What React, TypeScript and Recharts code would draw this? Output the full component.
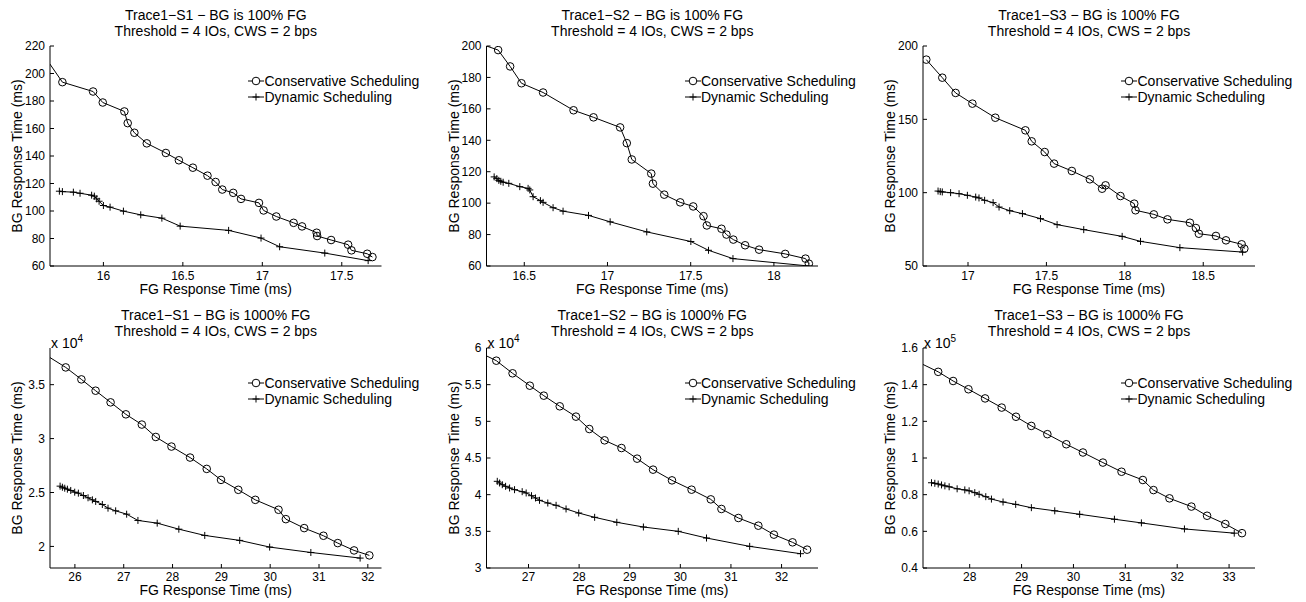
import React from 'react';
import { LineChart, Line, XAxis, YAxis } from 'recharts';

// ---------- data (FG response time in ms, BG response time in ms) ----------
const s1ConsFG = [15.6, 15.742, 15.935, 15.996, 16.132, 16.153, 16.195, 16.273, 16.393, 16.475, 16.563, 16.655, 16.706, 16.748, 16.817, 16.866, 16.979, 17.008, 17.088, 17.197, 17.25, 17.342, 17.345, 17.433, 17.54, 17.561, 17.66, 17.693];
const s1ConsBG = [217.5, 193.7, 186.9, 178.9, 172.4, 163.9, 156.9, 149.2, 142.2, 136.9, 131.5, 125.7, 121.1, 115.6, 113.2, 108.8, 105.9, 100.4, 96.0, 91.4, 88.8, 84.2, 81.8, 78.9, 75.5, 71.4, 68.9, 66.5];
const s1DynFG = [15.723, 15.742, 15.811, 15.853, 15.926, 15.943, 15.958, 15.973, 16.0, 16.042, 16.126, 16.235, 16.368, 16.483, 16.788, 16.992, 17.109, 17.393, 17.666];
const s1DynBG = [114.4, 114.1, 113.7, 112.9, 111.5, 110.8, 108.8, 107.1, 104.0, 102.8, 99.9, 97.2, 94.8, 89.0, 85.9, 80.3, 74.0, 69.4, 63.9];

const s2ConsFG = [16.204, 16.343, 16.415, 16.483, 16.613, 16.796, 16.916, 17.076, 17.116, 17.146, 17.263, 17.273, 17.341, 17.437, 17.515, 17.577, 17.597, 17.685, 17.715, 17.756, 17.827, 17.911, 18.068, 18.19, 18.21];
const s2ConsBG = [202.6, 197.4, 187.0, 176.3, 170.4, 159.1, 154.6, 148.2, 138.2, 127.8, 118.8, 112.4, 105.4, 100.5, 97.9, 91.7, 85.8, 83.7, 80.0, 76.8, 73.2, 70.4, 67.7, 64.7, 61.5];
const s2DynFG = [16.319, 16.335, 16.347, 16.359, 16.373, 16.407, 16.473, 16.523, 16.533, 16.553, 16.597, 16.613, 16.673, 16.733, 16.886, 17.016, 17.236, 17.501, 17.607, 17.754, 18.21];
const s2DynBG = [116.7, 115.6, 114.5, 113.9, 113.3, 112.6, 110.5, 109.4, 108.4, 104.1, 101.6, 100.5, 97.1, 94.9, 92.2, 88.1, 81.7, 75.6, 70.0, 64.7, 60.0];

const s3ConsFG = [16.734, 16.836, 16.921, 17.028, 17.174, 17.366, 17.406, 17.489, 17.549, 17.662, 17.777, 17.855, 17.877, 17.972, 18.06, 18.068, 18.185, 18.272, 18.415, 18.453, 18.472, 18.581, 18.645, 18.745, 18.762];
const s3ConsBG = [190.7, 178.4, 168.0, 160.7, 151.1, 142.5, 135.0, 127.7, 119.8, 114.8, 109.1, 102.7, 105.0, 97.7, 92.5, 88.0, 85.2, 81.8, 79.5, 75.9, 72.0, 70.5, 67.5, 64.8, 61.8];
const s3DynFG = [16.809, 16.823, 16.836, 16.889, 16.943, 16.996, 17.049, 17.07, 17.106, 17.16, 17.198, 17.266, 17.347, 17.462, 17.568, 17.738, 17.983, 18.1, 18.351, 18.751];
const s3DynBG = [101.1, 100.7, 100.5, 100.0, 99.3, 98.2, 97.0, 96.4, 94.8, 93.2, 90.2, 87.7, 85.7, 82.3, 78.2, 74.8, 70.2, 66.8, 62.5, 59.5];

const t1ConsFG = [25.3, 25.812, 26.133, 26.424, 26.731, 27.044, 27.371, 27.657, 27.978, 28.359, 28.7, 28.993, 29.347, 29.695, 30.171, 30.321, 30.696, 31.091, 31.384, 31.718, 32.031];
const t1ConsBG = [38050, 36600, 35490, 34440, 33360, 32250, 31300, 30150, 29260, 28240, 27190, 26170, 25250, 24320, 23400, 22530, 21700, 20990, 20310, 19630, 19170];
const t1DynFG = [25.697, 25.744, 25.792, 25.846, 25.915, 25.996, 26.071, 26.174, 26.269, 26.358, 26.426, 26.562, 26.678, 26.835, 27.06, 27.291, 27.686, 28.129, 28.66, 29.376, 29.989, 30.833, 31.842];
const t1DynBG = [25590, 25490, 25400, 25310, 25190, 25030, 24940, 24720, 24510, 24320, 24170, 23890, 23550, 23300, 22990, 22410, 22160, 21600, 21020, 20560, 19940, 19440, 18920];

const t2ConsFG = [25.957, 26.364, 26.685, 27.026, 27.302, 27.617, 27.938, 28.201, 28.503, 28.837, 29.146, 29.461, 29.835, 30.222, 30.602, 30.812, 31.147, 31.541, 31.849, 32.217, 32.505];
const t2ConsBG = [59640, 58270, 56550, 54860, 53500, 52050, 50640, 48950, 47410, 46360, 44910, 43410, 41950, 40680, 39360, 38050, 36820, 35770, 34550, 33500, 32500];
const t2DynFG = [26.383, 26.429, 26.482, 26.547, 26.626, 26.724, 26.875, 26.954, 27.059, 27.138, 27.217, 27.381, 27.545, 27.742, 27.992, 28.307, 28.745, 29.27, 29.959, 30.517, 31.37, 32.374];
const t2DynBG = [41820, 41590, 41360, 41140, 40910, 40680, 40410, 40230, 39860, 39550, 39230, 38860, 38550, 38050, 37500, 36910, 36230, 35590, 35000, 34090, 32950, 31950];

const t3ConsFG = [26.847, 27.393, 27.681, 27.976, 28.297, 28.617, 28.893, 29.188, 29.497, 29.862, 30.183, 30.568, 30.927, 31.338, 31.543, 31.851, 32.274, 32.576, 32.928, 33.249];
const t3ConsBG = [154500, 147000, 142000, 137500, 132500, 127500, 122500, 117500, 113000, 107500, 103000, 97500, 92500, 88000, 82500, 78000, 73500, 68500, 64000, 59000];
const t3DynFG = [27.264, 27.328, 27.393, 27.457, 27.522, 27.604, 27.758, 27.906, 27.989, 28.098, 28.182, 28.31, 28.419, 28.643, 28.887, 29.189, 29.64, 30.12, 30.79, 31.31, 32.14, 33.1];
const t3DynBG = [86500, 86200, 85800, 85300, 84800, 84300, 83200, 82600, 82100, 81100, 80200, 78900, 77600, 76000, 74700, 72900, 71200, 69300, 66600, 64600, 61300, 59000];

const titles = [
  'Trace1\u2212S1 \u2212 BG is 100% FG',
  'Trace1\u2212S2 \u2212 BG is 100% FG',
  'Trace1\u2212S3 \u2212 BG is 100% FG',
  'Trace1\u2212S1 \u2212 BG is 1000% FG',
  'Trace1\u2212S2 \u2212 BG is 1000% FG',
  'Trace1\u2212S3 \u2212 BG is 1000% FG',
];
const subtitle = 'Threshold = 4 IOs, CWS = 2 bps';
const seriesNames = ['Conservative Scheduling', 'Dynamic Scheduling'];
const xLabel = 'FG Response Time (ms)';
const yLabel = 'BG Response Time (ms)';

const xTicks1 = [16, 16.5, 17, 17.5];
const xTicks2 = [16.5, 17, 17.5, 18];
const xTicks3 = [17, 17.5, 18, 18.5];
const xTicks4 = [26, 27, 28, 29, 30, 31, 32];
const xTicks5 = [27, 28, 29, 30, 31, 32];
const xTicks6 = [28, 29, 30, 31, 32, 33];
const yTicks1 = [60, 80, 100, 120, 140, 160, 180, 200, 220];
const yTicks2 = [60, 80, 100, 120, 140, 160, 180, 200];
const yTicks3 = [50, 100, 150, 200];
const yTicks4 = [20000, 25000, 30000, 35000];
const yTicks5 = [30000, 35000, 40000, 45000, 50000, 55000, 60000];
const yTicks6 = [40000, 60000, 80000, 100000, 120000, 140000, 160000];

// ---------- layout ----------
const FONT = '"Liberation Sans", Arial, Helvetica, sans-serif';
const COL_X = [0, 435, 870];
const ROW_Y = [0, 300];
const FRAME_W = 436;
const FRAME_H = [300, 302];
const BOX_L = [50, 51.5, 53];
const BOX_R = [381.5, 383, 385];
const BOX_T = [46, 48];
const BOX_B = [266, 268];
const TICK_MARGIN = [9, 8];
const XLABEL_CY = [23, 22];

type Cfg = {
  title: string;
  consFG: number[]; consBG: number[]; dynFG: number[]; dynBG: number[];
  xDomain: [number, number]; xTicks: number[];
  yDomain: [number, number]; yTicks: number[];
  exp: number; col: number; row: number;
};

const panels: Cfg[] = [
  { title: titles[0], consFG: s1ConsFG, consBG: s1ConsBG, dynFG: s1DynFG, dynBG: s1DynBG, xDomain: [15.664, 17.75], xTicks: xTicks1, yDomain: [60, 220], yTicks: yTicks1, exp: 0, col: 0, row: 0 },
  { title: titles[1], consFG: s2ConsFG, consBG: s2ConsBG, dynFG: s2DynFG, dynBG: s2DynBG, xDomain: [16.273, 18.265], xTicks: xTicks2, yDomain: [60, 200], yTicks: yTicks2, exp: 0, col: 1, row: 0 },
  { title: titles[2], consFG: s3ConsFG, consBG: s3ConsBG, dynFG: s3DynFG, dynBG: s3DynBG, xDomain: [16.713, 18.83], xTicks: xTicks3, yDomain: [50, 200], yTicks: yTicks3, exp: 0, col: 2, row: 0 },
  { title: titles[3], consFG: t1ConsFG, consBG: t1ConsBG, dynFG: t1DynFG, dynBG: t1DynBG, xDomain: [25.49, 32.28], xTicks: xTicks4, yDomain: [18000, 38400], yTicks: yTicks4, exp: 4, col: 0, row: 1 },
  { title: titles[4], consFG: t2ConsFG, consBG: t2ConsBG, dynFG: t2DynFG, dynBG: t2DynBG, xDomain: [26.17, 32.72], xTicks: xTicks5, yDomain: [30000, 60000], yTicks: yTicks5, exp: 4, col: 1, row: 1 },
  { title: titles[5], consFG: t3ConsFG, consBG: t3ConsBG, dynFG: t3DynFG, dynBG: t3DynBG, xDomain: [27.1, 33.5], xTicks: xTicks6, yDomain: [40000, 160000], yTicks: yTicks6, exp: 5, col: 2, row: 1 },
];

const circleDot = (p: any) => (
  <circle key={`c${p.index}`} cx={p.cx} cy={p.cy} r={3.8} fill="none" stroke="#000" strokeWidth={1} />
);
const plusDot = (p: any) => (
  <path key={`p${p.index}`} d={`M${p.cx - 3.5},${p.cy}h7M${p.cx},${p.cy - 3.5}v7`} stroke="#000" strokeWidth={1} fill="none" />
);

const fmt = (scale: number) => (v: number) => String(+(v / scale).toFixed(3));

function Panel({ cfg }: { cfg: Cfg }) {
  const { col, row } = cfg;
  const W = FRAME_W;
  const H = FRAME_H[row];
  const bl = BOX_L[col], br = BOX_R[col], bt = BOX_T[row], bb = BOX_B[row];
  const YW = 45, XH = 30;
  const margin = { left: bl - YW, right: W - br, top: bt, bottom: H - bb - XH };
  const cons = cfg.consFG.map((x, i) => ({ x, y: cfg.consBG[i] }));
  const dyn = cfg.dynFG.map((x, i) => ({ x, y: cfg.dynBG[i] }));
  const scale = cfg.exp ? Math.pow(10, cfg.exp) : 1;
  const cx = (bl + br) / 2;
  const cy = (bt + bb) / 2;
  const tickStyle = { fill: '#000', fontSize: 12, fontFamily: FONT };
  const textBase: React.CSSProperties = { position: 'absolute', fontFamily: FONT, fontSize: 14, color: '#000', whiteSpace: 'nowrap', lineHeight: '16px' };
  return (
    <div style={{ position: 'absolute', left: COL_X[col], top: ROW_Y[row], width: W, height: H }}>
      <LineChart width={W} height={H} margin={margin}>
        <XAxis type="number" dataKey="x" domain={cfg.xDomain} ticks={cfg.xTicks} allowDataOverflow interval={0}
          height={XH} tickSize={-4} tickMargin={TICK_MARGIN[row]} stroke="#000" tick={tickStyle} tickFormatter={fmt(1)} />
        <YAxis type="number" dataKey="y" domain={cfg.yDomain} ticks={cfg.yTicks} allowDataOverflow interval={0}
          width={YW} tickSize={-4} tickMargin={9} stroke="#000" tick={tickStyle} tickFormatter={fmt(scale)} />
        <Line data={cons} dataKey="y" stroke="#000" strokeWidth={1} dot={circleDot} isAnimationActive={false} />
        <Line data={dyn} dataKey="y" stroke="#000" strokeWidth={1} dot={plusDot} isAnimationActive={false} />
      </LineChart>
      <div style={{ ...textBase, left: cx, top: 7, transform: 'translateX(-50%)', textAlign: 'center' }}>
        <div>{cfg.title}</div>
        <div>{subtitle}</div>
      </div>
      <div style={{ ...textBase, left: bl - 33, top: cy, transform: 'translate(-50%,-50%) rotate(-90deg)' }}>{yLabel}</div>
      <div style={{ ...textBase, lineHeight: '14px', left: cx, top: bb + XLABEL_CY[row] - 7, transform: 'translateX(-50%)' }}>{xLabel}</div>
      {cfg.exp ? (
        <div style={{ ...textBase, left: bl + 1, top: bt - 13 }}>
          x 10<sup style={{ fontSize: 10, verticalAlign: 'top', position: 'relative', top: -4 }}>{cfg.exp}</sup>
        </div>
      ) : null}
      <div style={{ position: 'absolute', left: bl + 198, top: bt + 35 - 8 }}>
        {seriesNames.map((name, i) => (
          <div key={name} style={{ display: 'flex', alignItems: 'center', height: 16 }}>
            <svg width={16} height={16} style={{ display: 'block' }}>
              <line x1={0} y1={8} x2={16} y2={8} stroke="#000" strokeWidth={1} />
              {i === 0 ? <circle cx={8} cy={8} r={3.8} fill="#fff" stroke="#000" strokeWidth={1} />
                : <path d="M4.5,8h7M8,4.5v7" stroke="#000" strokeWidth={1} />}
            </svg>
            <span style={{ fontFamily: FONT, fontSize: 14, color: '#000', whiteSpace: 'nowrap', marginLeft: 0.5 }}>{name}</span>
          </div>
        ))}
      </div>
    </div>
  );
}

export default function App() {
  return (
    <div style={{ position: 'absolute', left: 0, top: 0, width: 1306, height: 602, background: '#fff', overflow: 'hidden' }}>
      {panels.map((p, i) => <Panel key={i} cfg={p} />)}
    </div>
  );
}
